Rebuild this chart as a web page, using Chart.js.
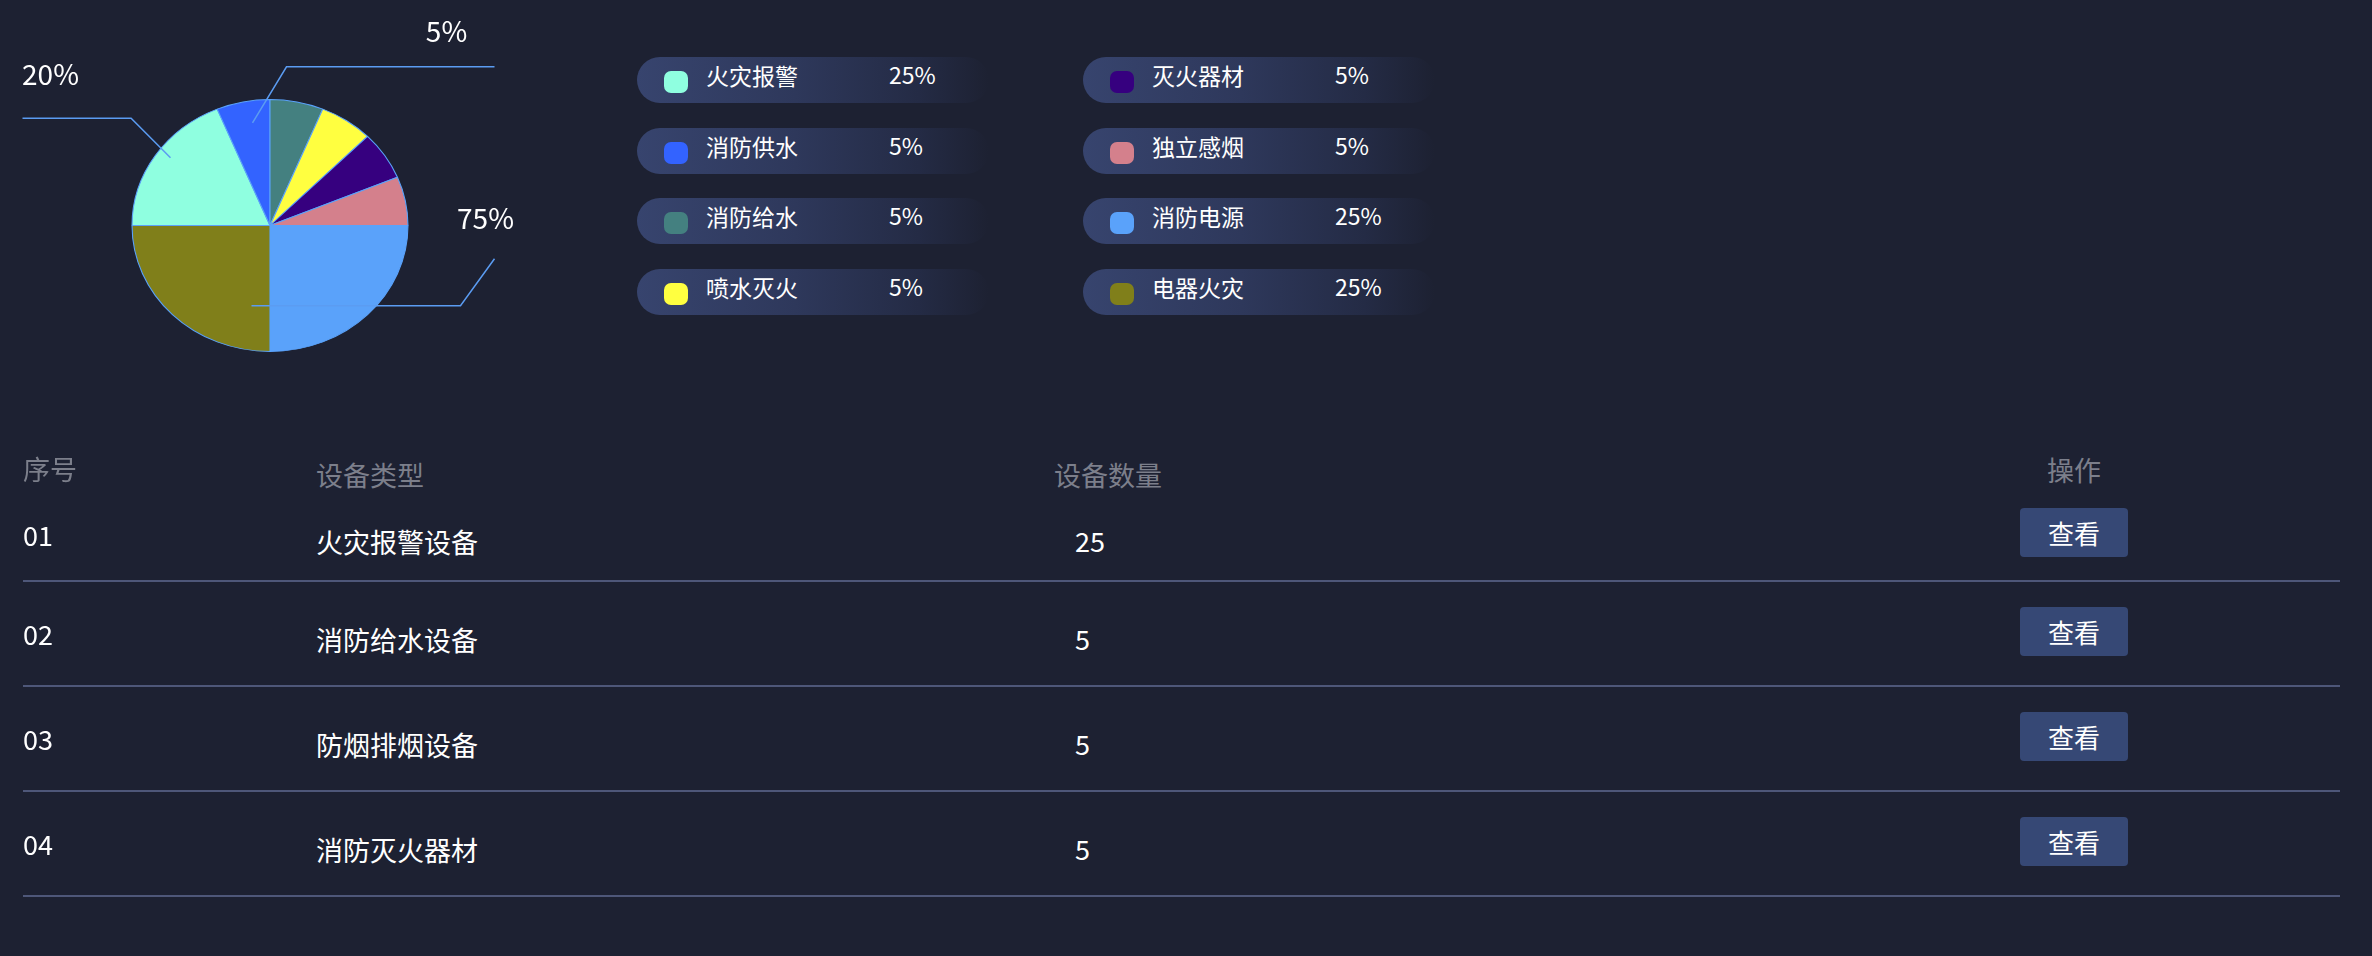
<!DOCTYPE html>
<html><head><meta charset="utf-8">
<script src="https://cdn.jsdelivr.net/npm/chart.js@4.4.0/dist/chart.umd.min.js"></script>
<style>
html,body{margin:0;padding:0;background:#1d2132;width:2372px;height:956px;overflow:hidden;font-family:"Noto Sans CJK SC","Noto Sans",sans-serif;}
#pieBox{position:absolute;left:0;top:0;width:540px;height:452px;}
.pill{position:absolute;height:46px;width:352px;border-radius:23px;background:linear-gradient(90deg,#37446e 0%,#2e385b 45%,#242b45 80%,rgba(29,33,50,0) 100%);}
.mark{position:absolute;width:24px;height:22px;border-radius:7px;}
.t{position:absolute;white-space:nowrap;color:#fff;}
.hd{color:#7c7f8b;}
.sep{position:absolute;left:23px;width:2317px;height:2px;background:#4e5779;}
.btn{position:absolute;width:108px;height:49px;border-radius:4px;background:#364875;color:#fff;font-size:26px;line-height:49px;text-align:center;}
</style></head>
<body>
<div id="pieBox"><canvas id="pie"></canvas></div>
<div id="legend"></div>
<div id="table"></div>
<script>
// ---- data ----
const pieLabels = ['火灾报警','消防供水','消防给水','喷水灭火','灭火器材','独立感烟','消防电源','电器火灾'];
const pieValues = [15,5,5,5,5,5,20,20];
const pieColors = ['#8fffe0','#3363ff','#448080','#ffff40','#36007f','#d4808c','#5aa2fa','#807f1a'];
const legendPercents = ['25%','5%','5%','5%','5%','5%','25%','25%'];
const calloutTexts = ['5%','20%','75%'];
const tableHeaders = ['序号','设备类型','设备数量','操作'];
const rowIds = ['01','02','03','04'];
const rowTypes = ['火灾报警设备','消防给水设备','防烟排烟设备','消防灭火器材'];
const rowCounts = [25,5,5,5];
const actionText = '查看';

// ---- layout (styles/positions) ----
const pieStretchX = 1.095;
const calloutGeom = [
  {pts:[[-17.5,-102.7],[16.5,-158.7],[224.5,-158.7]], label:[176.5,-193.7]},
  {pts:[[-99.5,-67.7],[-138.9,-107.2],[-247.5,-107.2]], label:[-219.5,-150.7]},
  {pts:[[-18.5,80.3],[190.5,80.3],[224.5,33.3]], label:[215.5,-6.7]}
];

const stretchPlugin = {
  id:'stretch',
  beforeDatasetsDraw(chart){
    const a = chart.getDatasetMeta(0).data[0];
    const ctx = chart.ctx;
    ctx.save();
    ctx.translate(a.x,a.y); ctx.scale(pieStretchX,1); ctx.translate(-a.x,-a.y);
  },
  afterDatasetsDraw(chart){ chart.ctx.restore(); }
};
const calloutPlugin = {
  id:'callouts',
  afterDraw(chart){
    const a = chart.getDatasetMeta(0).data[0];
    const k = a.outerRadius/126;
    const ctx = chart.ctx;
    ctx.save();
    ctx.strokeStyle = '#5b9cf2';
    ctx.lineWidth = 1.5;
    ctx.fillStyle = '#ffffff';
    ctx.font = '28px "Noto Sans CJK SC","Noto Sans",sans-serif';
    ctx.textAlign = 'center';
    ctx.textBaseline = 'alphabetic';
    calloutGeom.forEach((g,i)=>{
      ctx.beginPath();
      g.pts.forEach((p,j)=>{
        const x = a.x + p[0]*k, y = a.y + p[1]*k;
        if(j===0) ctx.moveTo(x,y); else ctx.lineTo(x,y);
      });
      ctx.stroke();
      ctx.fillText(calloutTexts[i], a.x + g.label[0]*k, a.y + g.label[1]*k + 10);
    });
    ctx.restore();
  }
};

new Chart(document.getElementById('pie'), {
  type:'pie',
  data:{labels:pieLabels, datasets:[{data:pieValues, backgroundColor:pieColors, borderColor:'#5aa2fa', borderWidth:1}]},
  options:{
    responsive:true, maintainAspectRatio:false, animation:false,
    rotation:-90,
    layout:{padding:{top:99,bottom:100,left:100,right:100}},
    plugins:{legend:{display:false}, tooltip:{enabled:false}},
    events:[]
  },
  plugins:[stretchPlugin, calloutPlugin]
});

// ---- legend ----
const lg = document.getElementById('legend');
pieLabels.forEach((name,i)=>{
  const col = Math.floor(i/4), row = i%4;
  const left = col===0 ? 637 : 1083;
  const top = 57 + row*70.7;
  let h = '';
  h += `<div class="pill" style="left:${left}px;top:${top}px"></div>`;
  h += `<div class="mark" style="left:${left+27}px;top:${top+14}px;background:${pieColors[i]}"></div>`;
  h += `<div class="t" style="left:${left+69}px;top:${top+18-16}px;height:32px;line-height:32px;font-size:23px">${name}</div>`;
  h += `<div class="t" style="left:${left+252}px;top:${top+17-16}px;height:32px;line-height:32px;font-size:23px">${legendPercents[i]}</div>`;
  lg.insertAdjacentHTML('beforeend', h);
});

// ---- table ----
const tb = document.getElementById('table');
const hdX = [23,316,1054,null];
const hdC = [468.5,475,474.5,470];
let th = '';
tableHeaders.forEach((t,i)=>{
  const top = hdC[i]-20;
  if(hdX[i]!==null) th += `<div class="t hd" style="left:${hdX[i]}px;top:${top}px;height:40px;line-height:40px;font-size:27px">${t}</div>`;
  else th += `<div class="t hd" style="left:2014px;width:120px;text-align:center;top:${top}px;height:40px;line-height:40px;font-size:27px">${t}</div>`;
});
rowIds.forEach((id,r)=>{
  const lineY = 581 + 105*r;
  const textC = lineY - 46 + (r===0 ? 6.5 : 0);
  const idC = textC - 6.5;
  const btnC = textC - 9;
  th += `<div class="t" style="left:23px;top:${idC-20}px;height:40px;line-height:40px;font-size:27px">${id}</div>`;
  th += `<div class="t" style="left:316px;top:${textC-20}px;height:40px;line-height:40px;font-size:27px">${rowTypes[r]}</div>`;
  th += `<div class="t" style="left:1075px;top:${textC-1-20}px;height:40px;line-height:40px;font-size:27px">${rowCounts[r]}</div>`;
  th += `<div class="btn" style="left:2020px;top:${btnC-24.5}px">${actionText}</div>`;
  th += `<div class="sep" style="top:${lineY-1}px"></div>`;
});
tb.innerHTML = th;
</script>
</body></html>
